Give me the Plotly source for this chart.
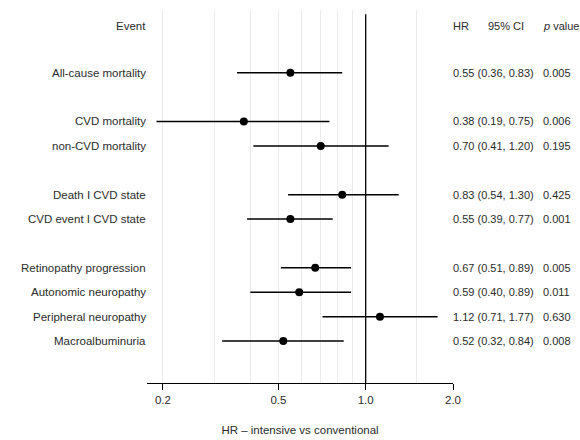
import plotly.graph_objects as go

# ---- data ----
groups = [
    ["All-cause mortality"],
    ["CVD mortality", "non-CVD mortality"],
    ["Death I CVD state", "CVD event I CVD state"],
    ["Retinopathy progression", "Autonomic neuropathy", "Peripheral neuropathy", "Macroalbuminuria"],
]
hr = [0.55, 0.38, 0.70, 0.83, 0.55, 0.67, 0.59, 1.12, 0.52]
ci_low = [0.36, 0.19, 0.41, 0.54, 0.39, 0.51, 0.40, 0.71, 0.32]
ci_high = [0.83, 0.75, 1.20, 1.30, 0.77, 0.89, 0.89, 1.77, 0.84]
p_values = ["0.005", "0.006", "0.195", "0.425", "0.001", "0.005", "0.011", "0.630", "0.008"]
tick_vals = [0.2, 0.5, 1.0, 2.0]
tick_text = ["0.2", "0.5", "1.0", "2.0"]
minor_grid = [0.3, 0.4, 0.6, 0.7, 0.8, 0.9, 1.5]

# ---- row positions: header at row 0, one blank row before each group ----
events, rows = [], []
r = 1
for g in groups:
    for e in g:
        r += 1
        events.append(e)
        rows.append(r)
    r += 1

FONT = "Liberation Sans, Arial, Helvetica, sans-serif"
TXT = "#2b2b2b"
FS_L = 11.5   # left labels
FS_R = 11     # right-hand columns

W, H = 580, 440
L, R, T, B = 147, 127, 10, 57
plot_w = W - L - R


def px(xpix):
    return (xpix - L) / plot_w


fig = go.Figure()

# reference line at HR = 1
fig.add_trace(go.Scatter(
    x=[1, 1], y=[-0.4, 14.8], mode="lines",
    line=dict(color="black", width=1.3), hoverinfo="skip", showlegend=False,
    cliponaxis=False,
))

# estimates with CIs
fig.add_trace(go.Scatter(
    x=hr, y=rows, mode="markers",
    marker=dict(color="black", size=8),
    error_x=dict(type="data", symmetric=False,
                 array=[h - m for h, m in zip(ci_high, hr)],
                 arrayminus=[m - l for m, l in zip(hr, ci_low)],
                 color="black", thickness=1.5, width=0),
    showlegend=False,
))

ann = []
fl = dict(family=FONT, size=FS_L, color=TXT)
fr = dict(family=FONT, size=FS_R, color=TXT)
# header
ann.append(dict(text="Event", x=0, xref="paper", y=0.1, yref="y", xanchor="right", xshift=1,
                showarrow=False, font=fl))
ann.append(dict(text="HR", x=px(451), xref="paper", y=0.1, yref="y", xanchor="left",
                showarrow=False, font=fr))
ann.append(dict(text="95% CI", x=px(486), xref="paper", y=0.1, yref="y", xanchor="left",
                showarrow=False, font=fr))
ann.append(dict(text="<i>p</i> value", x=px(541), xref="paper", y=0.1, yref="y", xanchor="left",
                showarrow=False, font=fr))

for e, yv, h, lo, hi, p in zip(events, rows, hr, ci_low, ci_high, p_values):
    ann.append(dict(text=e, x=0, xref="paper", y=yv, yref="y", xanchor="right", xshift=1,
                    showarrow=False, font=fl))
    ann.append(dict(text=f"{h:.2f} ({lo:.2f}, {hi:.2f})", x=px(451), xref="paper", y=yv, yref="y",
                    xanchor="left", showarrow=False, font=fr))
    ann.append(dict(text=p, x=px(541), xref="paper", y=yv, yref="y", xanchor="left",
                    showarrow=False, font=fr))

fig.update_layout(
    width=W, height=H,
    margin=dict(l=L, r=R, t=T, b=B),
    paper_bgcolor="white", plot_bgcolor="white",
    font=dict(family=FONT, size=FS_R, color=TXT),
    annotations=ann,
    xaxis=dict(
        type="log",
        range=[-0.754, 0.30103],
        tickvals=tick_vals, ticktext=tick_text,
        showgrid=True, gridcolor="#ebebeb", gridwidth=1,
        minor=dict(tickvals=minor_grid, showgrid=True, gridcolor="#ebebeb", gridwidth=1, ticks=""),
        showline=True, linecolor="black", linewidth=1.2,
        ticks="outside", ticklen=6, tickcolor="black", tickwidth=1.2,
        tickfont=dict(family=FONT, size=11.5, color=TXT),
        title=dict(text="HR – intensive vs conventional", standoff=21,
                   font=dict(family=FONT, size=11.5, color=TXT)),
        automargin=False,
        zeroline=False, fixedrange=True,
    ),
    yaxis=dict(
        range=[14.72, -0.57],
        showticklabels=False, showgrid=False, zeroline=False, showline=False,
        ticks="", fixedrange=True,
    ),
)

fig.write_html("out.html", config={"displayModeBar": False},
               post_script="document.body.style.margin='0px';")
